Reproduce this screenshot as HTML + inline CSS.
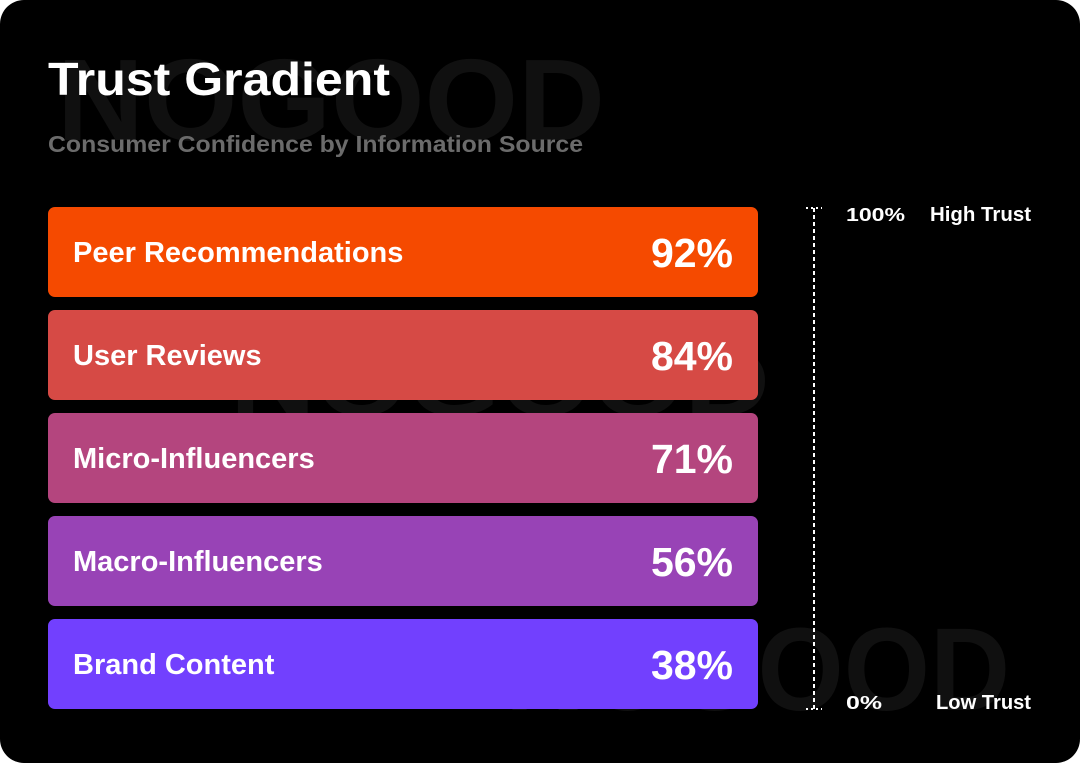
<!DOCTYPE html>
<html><head><meta charset="utf-8">
<style>
html,body{margin:0;padding:0;background:#fff;}
svg{display:block;}
text{font-family:"Liberation Sans",sans-serif;font-weight:bold;}
</style></head>
<body>
<svg id="chart" width="1080" height="763" viewBox="0 0 1080 763">
  <rect x="0" y="0" width="1080" height="763" rx="24" fill="#000"/>
  <g fill="#101010">
    <text x="57" y="140" font-size="116" textLength="548" lengthAdjust="spacingAndGlyphs">NOGOOD</text>
    <text x="230" y="415" font-size="97" textLength="540" lengthAdjust="spacingAndGlyphs">NOGOOD</text>
    <text x="505" y="710" font-size="118" textLength="505" lengthAdjust="spacingAndGlyphs">NOGOOD</text>
  </g>
  <text x="48" y="95" font-size="46" fill="#fff" textLength="342" lengthAdjust="spacingAndGlyphs">Trust Gradient</text>
  <text x="48" y="152" font-size="23" fill="#6b6b6b" textLength="535" lengthAdjust="spacingAndGlyphs">Consumer Confidence by Information Source</text>
  <g id="bars"></g>
  <g>
    <line x1="814" y1="208" x2="814" y2="709" stroke="#fff" stroke-width="2" stroke-dasharray="4,3"/>
    <line x1="806" y1="208" x2="822" y2="208" stroke="#fff" stroke-width="2" stroke-dasharray="2,3"/>
    <line x1="806" y1="709" x2="822" y2="709" stroke="#fff" stroke-width="2" stroke-dasharray="2,3"/>
    <text x="846" y="221" font-size="18" fill="#fff" textLength="59" lengthAdjust="spacingAndGlyphs">100%</text>
    <text x="930" y="221" font-size="20" fill="#fff" textLength="101" lengthAdjust="spacingAndGlyphs">High Trust</text>
    <text x="846" y="709" font-size="18" fill="#fff" textLength="36" lengthAdjust="spacingAndGlyphs">0%</text>
    <text x="936" y="709" font-size="20" fill="#fff" textLength="95" lengthAdjust="spacingAndGlyphs">Low Trust</text>
  </g>
</svg>
<script>
const categories = ["Peer Recommendations","User Reviews","Micro-Influencers","Macro-Influencers","Brand Content"];
const values = [92, 84, 71, 56, 38];
const colors = ["#f54a00","#d64a45","#b4457e","#9843b6","#7240fe"];

const NS = "http://www.w3.org/2000/svg";
const g = document.getElementById("bars");
const barX = 48, barW = 710, top0 = 207, barH = 90, gap = 13;
function yPos(i){ return top0 + i * (barH + gap); }
categories.forEach((c, i) => {
  const y = yPos(i);
  const r = document.createElementNS(NS, "rect");
  r.setAttribute("x", barX); r.setAttribute("y", y);
  r.setAttribute("width", barW); r.setAttribute("height", barH);
  r.setAttribute("rx", 7); r.setAttribute("fill", colors[i]);
  
  
  g.appendChild(r);
  const t = document.createElementNS(NS, "text");
  t.setAttribute("x", 73); t.setAttribute("y", y + barH/2 + 10);
  t.setAttribute("font-size", "29"); t.setAttribute("fill", "#fff");
  t.textContent = c;
  
  
  g.appendChild(t);
  const v = document.createElementNS(NS, "text");
  v.setAttribute("x", 733); v.setAttribute("y", y + barH/2 + 15);
  v.setAttribute("font-size", "41"); v.setAttribute("fill", "#fff");
  v.setAttribute("text-anchor", "end");
  v.textContent = values[i] + "%";
  
  
  g.appendChild(v);
});
</script>
</body></html>
